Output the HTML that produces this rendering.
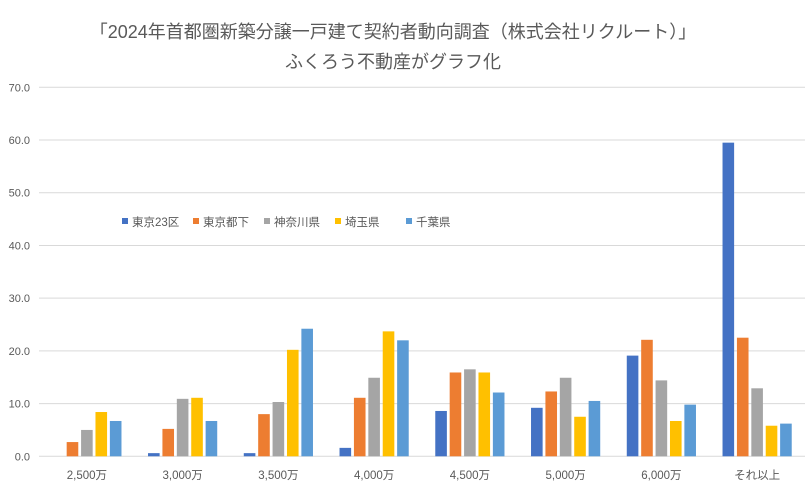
<!DOCTYPE html>
<html><head><meta charset="utf-8">
<style>
body{margin:0;background:#fff;}
svg{display:block;font-family:"Liberation Sans","Noto Sans CJK JP",sans-serif;}
</style></head>
<body>
<svg id="chart" width="810" height="498" viewBox="0 0 810 498">
<rect width="810" height="498" fill="#fff"/>
<text x="393" y="38" text-anchor="middle" font-size="18" fill="#595959">「2024年首都圏新築分譲一戸建て契約者動向調査（株式会社リクルート）」</text>
<text x="393" y="68" text-anchor="middle" font-size="18" fill="#595959">ふくろう不動産がグラフ化</text>
<g id="grid"></g>
<g id="bars"></g>
<g id="xlabels"></g>
<g id="legend"></g>
</svg>
<script>
const categories=["2,500万","3,000万","3,500万","4,000万","4,500万","5,000万","6,000万","それ以上"];
const seriesNames=["東京23区","東京都下","神奈川県","埼玉県","千葉県"];
const tokyo23=[0,0.6,0.6,1.6,8.6,9.2,19.1,59.5];
const tokyoOther=[2.7,5.2,8.0,11.1,15.9,12.3,22.1,22.5];
const kanagawa=[5.0,10.9,10.3,14.9,16.5,14.9,14.4,12.9];
const saitama=[8.4,11.1,20.2,23.7,15.9,7.5,6.7,5.8];
const chiba=[6.7,6.7,24.2,22.0,12.1,10.5,9.8,6.2];
const yTicks=[0,10,20,30,40,50,60,70];
const colors=["#4472C4","#ED7D31","#A5A5A5","#FFC000","#5B9BD5"];
const series=[tokyo23,tokyoOther,kanagawa,saitama,chiba];
const NS="http://www.w3.org/2000/svg";
const x0=39,x1=805,yBase=456.3,yTop=87.3,yMax=70;
const y=v=>yBase-(v/yMax)*(yBase-yTop);
const cw=(x1-x0)/categories.length;
const xc=i=>x0+cw*(i+0.5);
const pitch=14.4,bw=11.6;
function mk(tag,attrs,parent){const e=document.createElementNS(NS,tag);for(const k in attrs)e.setAttribute(k,attrs[k]);parent.appendChild(e);return e;}
const grid=document.getElementById('grid');
yTicks.forEach(t=>{
  const l=mk('line',{x1:x0,x2:x1,y1:y(t),y2:y(t),stroke:'#d9d9d9','stroke-width':1},grid);
  
  
  const tx=mk('text',{x:30,y:y(t)+4,'text-anchor':'end','font-size':11,fill:'#595959'},grid);
  tx.textContent=t.toFixed(1);
  
  
});
const bars=document.getElementById('bars');
series.forEach((s,si)=>{
  s.forEach((v,i)=>{
    const bx=xc(i)+(si-2)*pitch-bw/2;
    const r=mk('rect',{x:bx,y:y(v),width:bw,height:yBase-y(v),fill:colors[si]},bars);
    
    
  });
});
const xl=document.getElementById('xlabels');
categories.forEach((c,i)=>{
  const t=mk('text',{x:xc(i),y:479,'text-anchor':'middle','font-size':11.5,fill:'#595959'},xl);
  t.textContent=c;
  
  
});
const lg=document.getElementById('legend');
const lx=[122,193,264,335,406];
seriesNames.forEach((n,i)=>{
  const g=mk('g',{},lg);
  
  
  mk('rect',{x:lx[i],y:218,width:6,height:6,fill:colors[i]},g);
  const t=mk('text',{x:lx[i]+10,y:226,'font-size':11.5,fill:'#595959'},g);
  t.textContent=n;
});
</script>
</body></html>
